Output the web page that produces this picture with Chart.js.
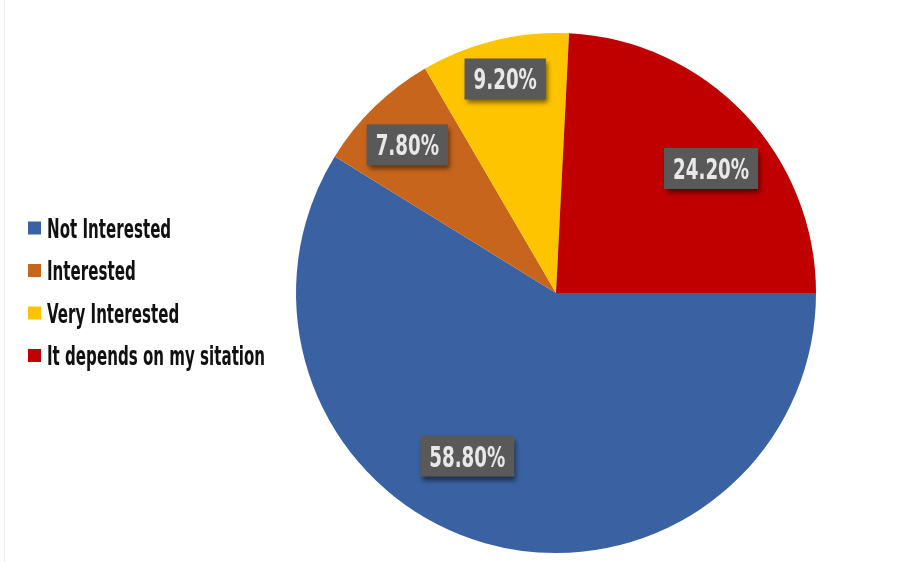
<!DOCTYPE html>
<html>
<head>
<meta charset="utf-8">
<title>Interest survey</title>
<script src="https://cdn.jsdelivr.net/npm/chart.js@4/dist/chart.umd.min.js"></script>
<style>
  html, body { margin: 0; padding: 0; background: #ffffff; }
  canvas { display: block; }
</style>
</head>
<body>
<canvas id="interestPie" width="915" height="562"></canvas>
<script>
const categories = ['Not Interested', 'Interested', 'Very Interested', 'It depends on my sitation'];
const shares = [58.8, 7.8, 9.2, 24.2];
const sliceColors = ['#3A62A2', '#C8651C', '#FFC400', '#C00000'];

// where each value tag sits: fraction along the slice's sweep, fraction of the radius
const tagAlong = [0.56, 0.47, 0.51, 0.555];
const tagRadius = [0.714, 0.807, 0.846, 0.765];

const FONT = '"DejaVu Sans Condensed", "DejaVu Sans", sans-serif';

// text squeezed horizontally to get that tall condensed look
function squeezedText(ctx, text, x, y, font, squeeze, align) {
  ctx.save();
  ctx.font = font;
  const w = ctx.measureText(text).width * squeeze;
  let left = x;
  if (align === 'center') left = x - w / 2;
  ctx.translate(left, y);
  ctx.scale(squeeze, 1);
  ctx.textAlign = 'left';
  ctx.fillText(text, 0, 0);
  ctx.restore();
  return w;
}

const sideLegend = {
  id: 'sideLegend',
  afterDraw(chart) {
    const ctx = chart.ctx;
    // faint frame line at the left edge
    ctx.save();
    ctx.strokeStyle = '#ececec';
    ctx.lineWidth = 1;
    ctx.beginPath();
    ctx.moveTo(4.5, 0);
    ctx.lineTo(4.5, chart.height);
    ctx.stroke();
    ctx.restore();

    const ds = chart.data.datasets[0];
    chart.data.labels.forEach((label, i) => {
      const cy = 228 + i * 42.5;
      ctx.save();
      ctx.fillStyle = ds.backgroundColor[i];
      ctx.fillRect(28, cy - 6.5, 13, 13);
      ctx.fillStyle = '#111111';
      ctx.textBaseline = 'alphabetic';
      squeezedText(ctx, label, 47, cy + 9.5, 'bold 26px ' + FONT, 0.645, 'left');
      ctx.restore();
    });
  }
};

const valueTags = {
  id: 'valueTags',
  afterDatasetsDraw(chart) {
    const ctx = chart.ctx;
    const meta = chart.getDatasetMeta(0);
    const values = chart.data.datasets[0].data;
    meta.data.forEach((arc, i) => {
      const p = arc.getProps(['x', 'y', 'startAngle', 'endAngle', 'outerRadius'], true);
      const a = p.startAngle + (p.endAngle - p.startAngle) * tagAlong[i];
      const r = p.outerRadius * tagRadius[i];
      const cx = p.x + Math.cos(a) * r;
      const cy = p.y + Math.sin(a) * r;
      const text = values[i].toFixed(2) + '%';
      const font = 'bold 29px ' + FONT;
      const squeeze = 0.7;

      ctx.save();
      ctx.font = font;
      const tw = ctx.measureText(text).width * squeeze;
      const bw = tw + 18;
      const bh = 41;
      ctx.shadowColor = 'rgba(0, 0, 0, 0.55)';
      ctx.shadowBlur = 5;
      ctx.shadowOffsetX = 2;
      ctx.shadowOffsetY = 4;
      ctx.fillStyle = '#595959';
      ctx.fillRect(cx - bw / 2, cy - bh / 2, bw, bh);
      ctx.restore();

      ctx.save();
      ctx.fillStyle = '#E8E8E8';
      ctx.textBaseline = 'alphabetic';
      squeezedText(ctx, text, cx, cy + 10.5, font, squeeze, 'center');
      ctx.restore();
    });
  }
};

new Chart(document.getElementById('interestPie').getContext('2d'), {
  type: 'pie',
  data: {
    labels: categories,
    datasets: [{
      data: shares,
      backgroundColor: sliceColors,
      borderWidth: 0
    }]
  },
  options: {
    responsive: false,
    animation: false,
    rotation: 90,
    layout: {
      padding: { left: 296, right: 99, top: 33, bottom: 9 }
    },
    plugins: {
      legend: { display: false },
      tooltip: { enabled: false },
      title: { display: false }
    }
  },
  plugins: [sideLegend, valueTags]
});
</script>
</body>
</html>
